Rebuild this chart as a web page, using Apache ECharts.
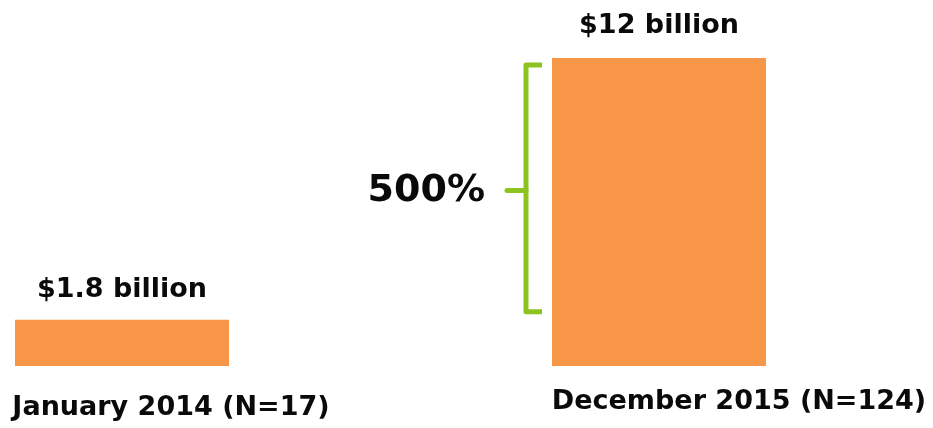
<!DOCTYPE html>
<html>
<head>
<meta charset="utf-8">
<script src="https://cdn.jsdelivr.net/npm/echarts@6/dist/echarts.min.js"></script>
<style>html,body{margin:0;padding:0;background:#fff}#c{width:933px;height:428px}</style>
</head>
<body>
<div id="c"></div>
<script>
var categories = ['January 2014 (N=17)', 'December 2015 (N=124)'];
var values = [1.8, 12];
var valueLabels = ['$1.8 billion', '$12 billion'];
var growthLabel = '500%';

var FONT = '"DejaVu Sans", sans-serif';
var chart = echarts.init(document.getElementById('c'), null, {renderer: 'canvas'});
var BARW = 214;
chart.setOption({
  animation: false,
  backgroundColor: '#ffffff',
  grid: {left: 122, right: 274, top: 58, bottom: 62, containLabel: false, outerBoundsMode: 'none'},
  xAxis: {
    type: 'category',
    boundaryGap: false,
    data: [
      {value: categories[0], textStyle: {padding: [6, 0, 0, 98]}},
      {value: categories[1], textStyle: {padding: [0, 0, 0, 160]}}
    ],
    axisLine: {show: false},
    axisTick: {show: false},
    axisLabel: {
      interval: 0, hideOverlap: false, margin: 22,
      color: '#0a0a0a', fontFamily: FONT, fontWeight: 'bold', fontSize: 27
    }
  },
  yAxis: {type: 'value', min: 0, max: 12, show: false, splitLine: {show: false}},
  series: [{
    type: 'bar',
    clip: false,
    barWidth: BARW,
    data: [
      {value: values[0], label: {distance: 16}},
      {value: values[1], label: {distance: 19}}
    ],
    itemStyle: {color: '#F79646'},
    label: {
      show: true, position: 'top',
      formatter: function (p) { return valueLabels[p.dataIndex]; },
      color: '#0a0a0a', fontFamily: FONT, fontWeight: 'bold', fontSize: 27
    }
  }]
});

var barLeft = chart.convertToPixel({gridIndex: 0}, [1, 0])[0] - BARW / 2;
var yTop = chart.convertToPixel({gridIndex: 0}, [1, values[1]])[1] + 7;
var yBot = chart.convertToPixel({gridIndex: 0}, [0, values[0]])[1] - 8;
var bx = barLeft - 26;
var ym = (yTop + yBot) / 2 + 2;
chart.setOption({
  graphic: [
    {type: 'polyline', shape: {points: [[bx + 16, yTop], [bx, yTop], [bx, yBot], [bx + 16, yBot]]},
     style: {stroke: '#8DC31E', lineWidth: 5, fill: null, lineJoin: 'round', lineCap: 'butt'}},
    {type: 'line', shape: {x1: bx - 19, y1: ym, x2: bx, y2: ym},
     style: {stroke: '#8DC31E', lineWidth: 5, lineCap: 'round'}},
    {type: 'text', x: bx - 41, y: ym + 1,
     style: {text: growthLabel, fill: '#0a0a0a', font: 'bold 38px "DejaVu Sans", sans-serif',
             textAlign: 'right', textVerticalAlign: 'middle'}}
  ]
});
</script>
</body>
</html>
